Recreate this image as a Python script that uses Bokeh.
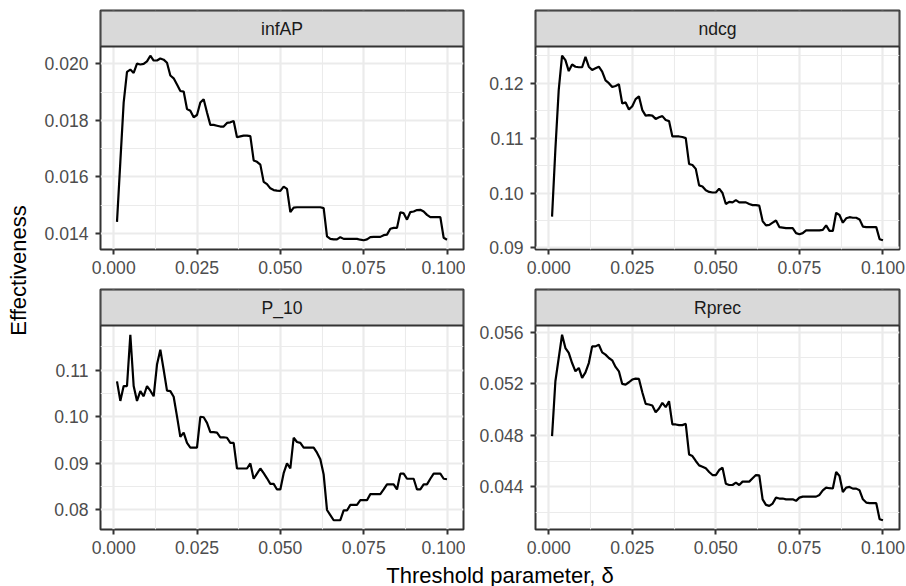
import math
from bokeh.plotting import figure
from bokeh.layouts import row, column
from bokeh.models import Range1d, FixedTicker, PrintfTickFormatter
from bokeh.core.properties import value
from bokeh.embed import file_html
from bokeh.resources import INLINE

# ---------------- data ----------------
delta = [0.001, 0.002, 0.003, 0.004, 0.005, 0.006, 0.007, 0.008, 0.009, 0.010,
         0.011, 0.012, 0.013, 0.014, 0.015, 0.016, 0.017, 0.018, 0.019, 0.020,
         0.021, 0.022, 0.023, 0.024, 0.025, 0.026, 0.027, 0.028, 0.029, 0.030,
         0.031, 0.032, 0.033, 0.034, 0.035, 0.036, 0.037, 0.038, 0.039, 0.040,
         0.041, 0.042, 0.043, 0.044, 0.045, 0.046, 0.047, 0.048, 0.049, 0.050,
         0.051, 0.052, 0.053, 0.054, 0.055, 0.056, 0.057, 0.058, 0.059, 0.060,
         0.061, 0.062, 0.063, 0.064, 0.065, 0.066, 0.067, 0.068, 0.069, 0.070,
         0.071, 0.072, 0.073, 0.074, 0.075, 0.076, 0.077, 0.078, 0.079, 0.080,
         0.081, 0.082, 0.083, 0.084, 0.085, 0.086, 0.087, 0.088, 0.089, 0.090,
         0.091, 0.092, 0.093, 0.094, 0.095, 0.096, 0.097, 0.098, 0.099, 0.100]

infAP = [0.01440, 0.01653, 0.01863, 0.01972, 0.01980, 0.01968, 0.02001, 0.01998, 0.02000, 0.02009,
         0.02029, 0.02012, 0.02012, 0.02019, 0.02015, 0.02004, 0.01959, 0.01949, 0.01927, 0.01904,
         0.01902, 0.01840, 0.01834, 0.01811, 0.01819, 0.01863, 0.01875, 0.01828, 0.01784, 0.01784,
         0.01781, 0.01778, 0.01778, 0.01791, 0.01793, 0.01798, 0.01740, 0.01743, 0.01746, 0.01746,
         0.01744, 0.01658, 0.01653, 0.01643, 0.01582, 0.01574, 0.01559, 0.01553, 0.01551, 0.01550,
         0.01565, 0.01557, 0.01475, 0.01491, 0.01492, 0.01492, 0.01492, 0.01492, 0.01492, 0.01492,
         0.01492, 0.01492, 0.01489, 0.01389, 0.01380, 0.01378, 0.01378, 0.01386, 0.01380, 0.01380,
         0.01380, 0.01380, 0.01380, 0.01377, 0.01375, 0.01378, 0.01386, 0.01387, 0.01387, 0.01387,
         0.01393, 0.01395, 0.01416, 0.01419, 0.01419, 0.01474, 0.01471, 0.01448, 0.01475, 0.01477,
         0.01482, 0.01483, 0.01477, 0.01465, 0.01457, 0.01457, 0.01457, 0.01457, 0.01384, 0.01377]

ndcg = [0.0957, 0.1080, 0.1188, 0.1250, 0.1242, 0.1222, 0.1234, 0.1230, 0.1229, 0.1229,
        0.1248, 0.1230, 0.1224, 0.1227, 0.1230, 0.1221, 0.1205, 0.1200, 0.1193, 0.1195,
        0.1198, 0.1163, 0.1165, 0.1152, 0.1158, 0.1171, 0.1176, 0.1151, 0.1141, 0.1142,
        0.1141, 0.1135, 0.1138, 0.1140, 0.1133, 0.1131, 0.1103, 0.1103, 0.1103, 0.1102,
        0.1100, 0.1053, 0.1051, 0.1044, 0.1014, 0.1012, 0.1005, 0.1002, 0.1001, 0.1001,
        0.1008, 0.1000, 0.0980, 0.0984, 0.0983, 0.0987, 0.0983, 0.0983, 0.0983, 0.0980,
        0.0978, 0.0978, 0.0977, 0.0949, 0.0941, 0.0942, 0.0946, 0.0950, 0.0938, 0.0937,
        0.0936, 0.0936, 0.0936, 0.0927, 0.0925, 0.0927, 0.0932, 0.0932, 0.0932, 0.0932,
        0.0932, 0.0933, 0.0941, 0.0931, 0.0931, 0.0964, 0.0960, 0.0946, 0.0954, 0.0956,
        0.0955, 0.0955, 0.0952, 0.0939, 0.0938, 0.0938, 0.0938, 0.0938, 0.0916, 0.0914]

P_10 = [0.1076, 0.1034, 0.1066, 0.1066, 0.1176, 0.1066, 0.1034, 0.1055, 0.1044, 0.1066,
        0.1056, 0.1044, 0.1112, 0.1144, 0.1101, 0.1056, 0.1055, 0.1043, 0.1001, 0.0957,
        0.0966, 0.0944, 0.0934, 0.0934, 0.0934, 0.1000, 0.0999, 0.0987, 0.0967, 0.0967,
        0.0966, 0.0956, 0.0956, 0.0955, 0.0944, 0.0944, 0.0889, 0.0889, 0.0889, 0.0889,
        0.0900, 0.0867, 0.0878, 0.0889, 0.0879, 0.0868, 0.0856, 0.0856, 0.0844, 0.0844,
        0.0879, 0.0900, 0.0889, 0.0955, 0.0946, 0.0944, 0.0934, 0.0934, 0.0934, 0.0934,
        0.0923, 0.0909, 0.0876, 0.0800, 0.0789, 0.0778, 0.0778, 0.0778, 0.0799, 0.0799,
        0.0811, 0.0811, 0.0811, 0.0821, 0.0821, 0.0821, 0.0834, 0.0834, 0.0834, 0.0834,
        0.0844, 0.0855, 0.0855, 0.0855, 0.0844, 0.0878, 0.0878, 0.0867, 0.0867, 0.0867,
        0.0844, 0.0844, 0.0855, 0.0855, 0.0867, 0.0878, 0.0878, 0.0878, 0.0867, 0.0866]

Rprec = [0.04794, 0.05219, 0.05399, 0.05579, 0.05476, 0.05438, 0.05360, 0.05296, 0.05322, 0.05245,
         0.05288, 0.05360, 0.05489, 0.05489, 0.05502, 0.05443, 0.05425, 0.05399, 0.05381, 0.05330,
         0.05296, 0.05198, 0.05193, 0.05211, 0.05232, 0.05239, 0.05237, 0.05134, 0.05044, 0.05039,
         0.05031, 0.04979, 0.05008, 0.05051, 0.05018, 0.05064, 0.04884, 0.04884, 0.04879, 0.04879,
         0.04889, 0.04652, 0.04639, 0.04601, 0.04567, 0.04557, 0.04544, 0.04516, 0.04492, 0.04492,
         0.04531, 0.04549, 0.04425, 0.04415, 0.04415, 0.04433, 0.04415, 0.04441, 0.04441, 0.04441,
         0.04467, 0.04492, 0.04490, 0.04304, 0.04261, 0.04253, 0.04271, 0.04317, 0.04310, 0.04310,
         0.04304, 0.04304, 0.04304, 0.04292, 0.04317, 0.04325, 0.04325, 0.04325, 0.04325, 0.04325,
         0.04338, 0.04374, 0.04395, 0.04390, 0.04388, 0.04516, 0.04485, 0.04361, 0.04395, 0.04400,
         0.04387, 0.04387, 0.04374, 0.04304, 0.04279, 0.04274, 0.04274, 0.04274, 0.04150, 0.04142]

x_ticks = [0.000, 0.025, 0.050, 0.075, 0.100]
x_minor = [0.0125, 0.0375, 0.0625, 0.0875]

infAP_ticks = [0.014, 0.016, 0.018, 0.020]
infAP_minor = [0.013, 0.015, 0.017, 0.019, 0.021]
ndcg_ticks = [0.09, 0.10, 0.11, 0.12]
ndcg_minor = [0.085, 0.095, 0.105, 0.115, 0.125]
P10_ticks = [0.08, 0.09, 0.10, 0.11]
P10_minor = [0.075, 0.085, 0.095, 0.105, 0.115]
Rprec_ticks = [0.044, 0.048, 0.052, 0.056]
Rprec_minor = [0.042, 0.046, 0.050, 0.054, 0.058]

panel_titles = ["infAP", "ndcg", "P_10", "Rprec"]
x_title = "Threshold parameter, \u03b4"
y_title = "Effectiveness"

# ---------------- style ----------------
FONT = "Liberation Sans"
BORDER = "#333333"
GRID = "#EBEBEB"
STRIP_FILL = "#D9D9D9"


def panel(title, ys, yticks, yminor, yfmt, width, height, left, right, top, bottom, strip_h):
    frame_h = height - top - bottom
    panel_h = frame_h - strip_h
    lo, hi = min(ys), max(ys)
    y0, y1 = lo - 0.05 * (hi - lo), hi + 0.05 * (hi - lo)
    ytop = y1 + (y1 - y0) * strip_h / panel_h          # room for the facet strip
    xl, xh = min(delta), max(delta)
    x0, x1 = xl - 0.05 * (xh - xl), xh + 0.05 * (xh - xl)

    p = figure(width=width, height=height,
               x_range=Range1d(x0, x1), y_range=Range1d(y0, ytop),
               output_backend="svg", toolbar_location=None,
               min_border_left=left, min_border_right=right,
               min_border_top=top, min_border_bottom=bottom)
    p.line(delta, ys, line_color="black", line_width=2.2)

    # facet strip
    p.quad(left=[x0], right=[x1], bottom=[y1], top=[ytop],
           fill_color=STRIP_FILL, line_color=BORDER, line_width=2)
    p.text(x=[(x0 + x1) / 2], y=[(y1 + ytop) / 2], text=[title],
           text_align="center", text_baseline="middle",
           text_font=value(FONT), text_font_size="17.6px", text_color="#1A1A1A")

    p.xaxis.ticker = FixedTicker(ticks=x_ticks, minor_ticks=x_minor)
    p.yaxis.ticker = FixedTicker(ticks=[t for t in yticks if t < y1],
                                 minor_ticks=[m for m in yminor if m < y1])
    p.xaxis.formatter = PrintfTickFormatter(format="%.3f")
    p.yaxis.formatter = PrintfTickFormatter(format=yfmt)
    p.axis.axis_line_color = None
    p.axis.axis_label = None
    p.axis.axis_label_standoff = 0
    p.axis.major_tick_line_color = BORDER
    p.axis.major_tick_line_width = 2
    p.axis.major_tick_in = 0
    p.axis.major_tick_out = 5
    p.axis.minor_tick_line_color = None
    p.axis.major_label_text_font = FONT
    p.axis.major_label_text_font_size = "17.6px"
    p.axis.major_label_text_color = "#4D4D4D"
    p.xaxis.major_label_standoff = 6
    p.yaxis.major_label_standoff = 7
    p.grid.grid_line_color = GRID
    p.grid.grid_line_width = 2.2
    p.grid.minor_grid_line_color = GRID
    p.grid.minor_grid_line_width = 1.1
    p.outline_line_color = BORDER
    p.outline_line_width = 2
    p.background_fill_color = "white"
    p.border_fill_color = "white"
    return p


# column geometry (pixels)
LL, LW, LR = 70, 363, 2      # left column: border, frame, border
RL, RW, RR = 70, 364, 7      # right column
WL = LL + LW + LR
WR = RL + RW + RR

p1 = panel(panel_titles[0], infAP, infAP_ticks, infAP_minor, "%.3f", WL, 288, LL, LR, 10, 39, 36)
p2 = panel(panel_titles[1], ndcg, ndcg_ticks, ndcg_minor, "%.2f", WR, 288, RL, RR, 10, 39, 36)
p3 = panel(panel_titles[2], P_10, P10_ticks, P10_minor, "%.2f", WL, 274, LL, LR, 1, 33, 36)
p4 = panel(panel_titles[3], Rprec, Rprec_ticks, Rprec_minor, "%.3f", WR, 274, RL, RR, 1, 33, 36)

# x-axis title (text hung from the top of its strip)
xt = figure(width=WL + WR, height=24,
            x_range=Range1d(0, 1), y_range=Range1d(0, 1),
            x_axis_type=None, y_axis_type=None,
            output_backend="svg", toolbar_location=None,
            min_border_left=LL, min_border_right=RR, min_border_top=0, min_border_bottom=0)
xt.outline_line_color = None
xt.text(x=[0.5], y=[1.0], text=[x_title], text_align="center", text_baseline="top",
        text_font=value(FONT), text_font_size="22px", text_color="black")

# y-axis title
yt = figure(width=30, height=586,
            x_range=Range1d(0, 1), y_range=Range1d(0, 1),
            x_axis_type=None, y_axis_type=None,
            output_backend="svg", toolbar_location=None, min_border=0)
yt.outline_line_color = None
yt.text(x=[0.6], y=[1 - 270 / 586], text=[y_title], angle=math.pi / 2,
        text_align="center", text_baseline="middle",
        text_font=value(FONT), text_font_size="22px", text_color="black")

layout = row(yt, column(row(p1, p2), row(p3, p4), xt))

open("out.html", "w").write(file_html(layout, INLINE))
